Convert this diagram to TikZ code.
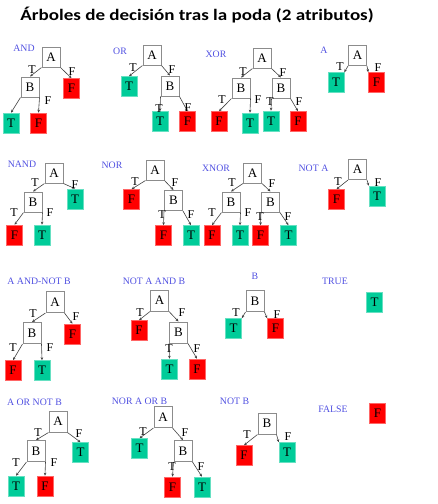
\documentclass[tikz,border=0pt]{standalone}
\usepackage{fontspec}
\setmainfont{Liberation Serif}
\newfontfamily\titlefont{Carlito}
\usetikzlibrary{arrows.meta}
\definecolor{leafteal}{RGB}{0,204,153}
\definecolor{leafred}{RGB}{255,0,0}
\definecolor{lblblue}{RGB}{80,80,225}
\definecolor{boxgray}{RGB}{140,140,140}
\tikzset{
  ibox/.style={draw=boxgray, line width=1pt, fill=white, minimum width=18pt, minimum height=20pt, inner sep=0pt, font=\fontsize{13}{13}\selectfont},
  leafT/.style={fill=leafteal, draw=leafteal!60!white, line width=0.6pt, minimum width=16pt, minimum height=20pt, inner sep=0pt, font=\fontsize{13}{13}\selectfont},
  leafF/.style={fill=leafred, draw=leafred!60!white, line width=0.6pt, minimum width=16pt, minimum height=20pt, inner sep=0pt, font=\fontsize{13}{13}\selectfont},
  tlbl/.style={text=lblblue, inner sep=0pt, font=\fontsize{9.8}{9.8}\selectfont},
  el/.style={inner sep=0pt, font=\fontsize{12}{12}\selectfont},
  edge/.style={draw=black!75, line width=0.6pt, -{Stealth[length=3pt,width=2.6pt]}}
}
\begin{document}
\begin{tikzpicture}[x=1pt,y=-1pt]
\useasboundingbox (0,0) rectangle (438,504);
\node[inner sep=0pt, xscale=1.19, font=\titlefont\bfseries\fontsize{16}{16}\selectfont] (title) at (197,15.5) {Árboles de decisión tras la poda (2 atributos)};

% ---------- AND
\node[tlbl] (l1) at (24,48.5) {AND};
\node[ibox] (t1A) at (51,57) {A};
\node[ibox] (t1B) at (30,87) {B};
\node[leafF] (t1F1) at (71.5,88.5) {F};
\node[leafT] (t1T) at (11,123) {T};
\node[leafF] (t1F2) at (38.5,123) {F};
\draw[edge] (t1A.south west) -- (t1B.north);
\draw[edge] (t1A.south east) -- (t1F1.north);
\draw[edge] (t1B.south west) -- (t1T.north);
\draw[edge] (t1B.south east) -- (t1F2.north);
\node[el] at (32,70) {T};
\node[el] at (72,72) {F};
\node[el] at (48,101) {F};

% ---------- OR
\node[tlbl] (l2) at (120,51) {OR};
\node[ibox] (t2A) at (152,55) {A};
\node[leafT] (t2T1) at (129,86.5) {T};
\node[ibox] (t2B) at (170,86) {B};
\node[leafT] (t2T2) at (160,121.5) {T};
\node[leafF] (t2F) at (187.5,121.5) {F};
\draw[edge] (t2A.south west) -- (t2T1.north);
\draw[edge] (t2A.south east) -- (t2B.north);
\draw[edge] (t2B.south west) -- (t2T2.north);
\draw[edge] (t2B.south east) -- (t2F.north);
\node[el] at (133,68) {T};
\node[el] at (172,70) {F};
\node[el] at (159,109) {T};
\node[el] at (188,108) {F};

% ---------- XOR
\node[tlbl] (l3) at (216,54) {XOR};
\node[ibox] (t3A) at (262,58) {A};
\node[ibox] (t3B1) at (241,88) {B};
\node[ibox] (t3B2) at (281,88) {B};
\node[leafF] (t3F1) at (219,121.5) {F};
\node[leafT] (t3T1) at (250,123) {T};
\node[leafT] (t3T2) at (271,121) {T};
\node[leafF] (t3F2) at (298,121.5) {F};
\draw[edge] (t3A.south west) -- (t3B1.north);
\draw[edge] (t3A.south east) -- (t3B2.north);
\draw[edge] (t3B1.south west) -- (t3F1.north);
\draw[edge] (t3B1.south east) -- (t3T1.north);
\draw[edge] (t3B2.south west) -- (t3T2.north);
\draw[edge] (t3B2.south east) -- (t3F2.north);
\node[el] at (243,72) {T};
\node[el] at (283,73) {F};
\node[el] at (222,100) {T};
\node[el] at (258,100) {F};
\node[el] at (270,102) {T};
\node[el] at (299,102) {F};

% ---------- A
\node[tlbl] (l4) at (324,50) {A};
\node[ibox] (t4A) at (357.5,55.5) {A};
\node[leafT] (t4T) at (336,82.5) {T};
\node[leafF] (t4F) at (376.5,82.5) {F};
\draw[edge] (t4A.south west) -- (t4T.north east);
\draw[edge] (t4A.south east) -- (t4F.north west);
\node[el] at (340,67) {T};
\node[el] at (378,68) {F};

% ---------- NAND
\node[tlbl] (l5) at (22,164.5) {NAND};
\node[ibox] (t5A) at (54,173) {A};
\node[ibox] (t5B) at (33,202) {B};
\node[leafT] (t5T1) at (75,199) {T};
\node[leafF] (t5F) at (14.5,235) {F};
\node[leafT] (t5T2) at (42,235) {T};
\draw[edge] (t5A.south west) -- (t5B.north);
\draw[edge] (t5A.south east) -- (t5T1.north);
\draw[edge] (t5B.south west) -- (t5F.north);
\draw[edge] (t5B.south east) -- (t5T2.north);
\node[el] at (35,183) {T};
\node[el] at (75,185) {F};
\node[el] at (14,213) {T};
\node[el] at (50,213) {F};

% ---------- NOR
\node[tlbl] (l6) at (112,165) {NOR};
\node[ibox] (t6A) at (155,170) {A};
\node[leafF] (t6F1) at (131.5,199.5) {F};
\node[ibox] (t6B) at (173.5,200.5) {B};
\node[leafF] (t6F2) at (163.5,235.5) {F};
\node[leafT] (t6T) at (191,235.5) {T};
\draw[edge] (t6A.south west) -- (t6F1.north);
\draw[edge] (t6A.south east) -- (t6B.north);
\draw[edge] (t6B.south west) -- (t6F2.north);
\draw[edge] (t6B.south east) -- (t6T.north);
\node[el] at (135,182) {T};
\node[el] at (175,183) {F};
\node[el] at (162,215) {T};
\node[el] at (191,215) {F};

% ---------- XNOR
\node[tlbl] (l7) at (216,168) {XNOR};
\node[ibox] (t7A) at (252.5,173) {A};
\node[ibox] (t7B1) at (231,202) {B};
\node[ibox] (t7B2) at (270.5,202) {B};
\node[leafF] (t7F1) at (212,235.5) {F};
\node[leafT] (t7T1) at (240,235.5) {T};
\node[leafF] (t7F2) at (260.5,235.5) {F};
\node[leafT] (t7T2) at (288.5,235.5) {T};
\draw[edge] (t7A.south west) -- (t7B1.north);
\draw[edge] (t7A.south east) -- (t7B2.north);
\draw[edge] (t7B1.south west) -- (t7F1.north);
\draw[edge] (t7B1.south east) -- (t7T1.north);
\draw[edge] (t7B2.south west) -- (t7F2.north);
\draw[edge] (t7B2.south east) -- (t7T2.north);
\node[el] at (232,183) {T};
\node[el] at (272,184) {F};
\node[el] at (212,213) {T};
\node[el] at (248,213) {F};
\node[el] at (260,217) {T};
\node[el] at (288,217) {F};

% ---------- NOT A
\node[tlbl] (l8) at (313.5,168) {NOT A};
\node[ibox] (t8A) at (357.5,169.5) {A};
\node[leafF] (t8F) at (336.5,199.5) {F};
\node[leafT] (t8T) at (377,196) {T};
\draw[edge] (t8A.south west) -- (t8F.north);
\draw[edge] (t8A.south east) -- (t8T.north west);
\node[el] at (338,182) {T};
\node[el] at (378,183) {F};

% ---------- A AND-NOT B
\node[tlbl] (l9) at (39,281) {A AND-NOT B};
\node[ibox, minimum height=21pt] (t9A) at (55,302) {A};
\node[ibox, minimum height=21pt] (t9B) at (32,333) {B};
\node[leafF] (t9F1) at (72.5,334) {F};
\node[leafF] (t9F2) at (13,370.5) {F};
\node[leafT] (t9T) at (42,370.5) {T};
\draw[edge] (t9A.south west) -- (t9B.north);
\draw[edge] (t9A.south east) -- (t9F1.north);
\draw[edge] (t9B.south west) -- (t9F2.north);
\draw[edge] (t9B.south east) -- (t9T.north);
\node[el] at (33,314) {T};
\node[el] at (76,317) {F};
\node[el] at (13,348) {T};
\node[el] at (50,348) {F};

% ---------- NOT A AND B
\node[tlbl] (l10) at (154,281) {NOT A AND B};
\node[ibox, minimum height=21pt] (t10A) at (159.5,300.5) {A};
\node[leafF] (t10F1) at (139,330.5) {F};
\node[ibox, minimum height=21pt] (t10B) at (178.5,332.5) {B};
\node[leafT] (t10T) at (169.5,369) {T};
\node[leafF] (t10F2) at (197,369) {F};
\draw[edge] (t10A.south west) -- (t10F1.north);
\draw[edge] (t10A.south east) -- (t10B.north);
\draw[edge] (t10B.south west) -- (t10T.north);
\draw[edge] (t10B.south east) -- (t10F2.north);
\node[el] at (140,313) {T};
\node[el] at (182,313) {F};
\node[el] at (169,349) {T};
\node[el] at (197,349) {F};

% ---------- B
\node[tlbl] (l11) at (255,276) {B};
\node[ibox, minimum height=21pt] (t11B) at (255,301) {B};
\node[leafT] (t11T) at (233.5,328.5) {T};
\node[leafF] (t11F) at (275.5,328.5) {F};
\draw[edge] (t11B.south west) -- (t11T.north east);
\draw[edge] (t11B.south east) -- (t11F.north west);
\node[el] at (236,313) {T};
\node[el] at (277,315) {F};

% ---------- TRUE
\node[tlbl] (l12) at (335,281) {TRUE};
\node[leafT] (t12T) at (374.5,302.5) {T};

% ---------- A OR NOT B
\node[tlbl] (l13) at (34.5,402) {A OR NOT B};
\node[ibox, minimum height=21pt] (t13A) at (58,421.5) {A};
\node[ibox, minimum height=21pt] (t13B) at (36,451) {B};
\node[leafT] (t13T1) at (80.5,452.5) {T};
\node[leafT] (t13T2) at (16,486) {T};
\node[leafF] (t13F) at (45,486) {F};
\draw[edge] (t13A.south west) -- (t13B.north);
\draw[edge] (t13A.south east) -- (t13T1.north);
\draw[edge] (t13B.south west) -- (t13T2.north);
\draw[edge] (t13B.south east) -- (t13F.north);
\node[el] at (38,433) {T};
\node[el] at (79,434) {F};
\node[el] at (16,463) {T};
\node[el] at (54,463) {F};

% ---------- NOR A OR B
\node[tlbl] (l14) at (139.5,401) {NOR A OR B};
\node[ibox, minimum height=21pt] (t14A) at (163,417) {A};
\node[leafT] (t14T1) at (139.5,448.5) {T};
\node[ibox, minimum height=21pt] (t14B) at (183,451) {B};
\node[leafF] (t14F) at (172.5,487) {F};
\node[leafT] (t14T2) at (202,487) {T};
\draw[edge] (t14A.south west) -- (t14T1.north);
\draw[edge] (t14A.south east) -- (t14B.north);
\draw[edge] (t14B.south west) -- (t14F.north);
\draw[edge] (t14B.south east) -- (t14T2.north);
\node[el] at (143,432) {T};
\node[el] at (185,433) {F};
\node[el] at (172,467) {T};
\node[el] at (201,467) {F};

% ---------- NOT B
\node[tlbl] (l15) at (234.5,401) {NOT B};
\node[ibox, minimum height=21pt] (t15B) at (267,423.5) {B};
\node[leafF] (t15F) at (244,455.5) {F};
\node[leafT] (t15T) at (287,452.5) {T};
\draw[edge] (t15B.south west) -- (t15F.north);
\draw[edge] (t15B.south east) -- (t15T.north west);
\node[el] at (247,435) {T};
\node[el] at (288,437) {F};

% ---------- FALSE
\node[tlbl] (l16) at (333,409) {FALSE};
\node[leafF] (t16F) at (377.5,413) {F};
\end{tikzpicture}
\end{document}
